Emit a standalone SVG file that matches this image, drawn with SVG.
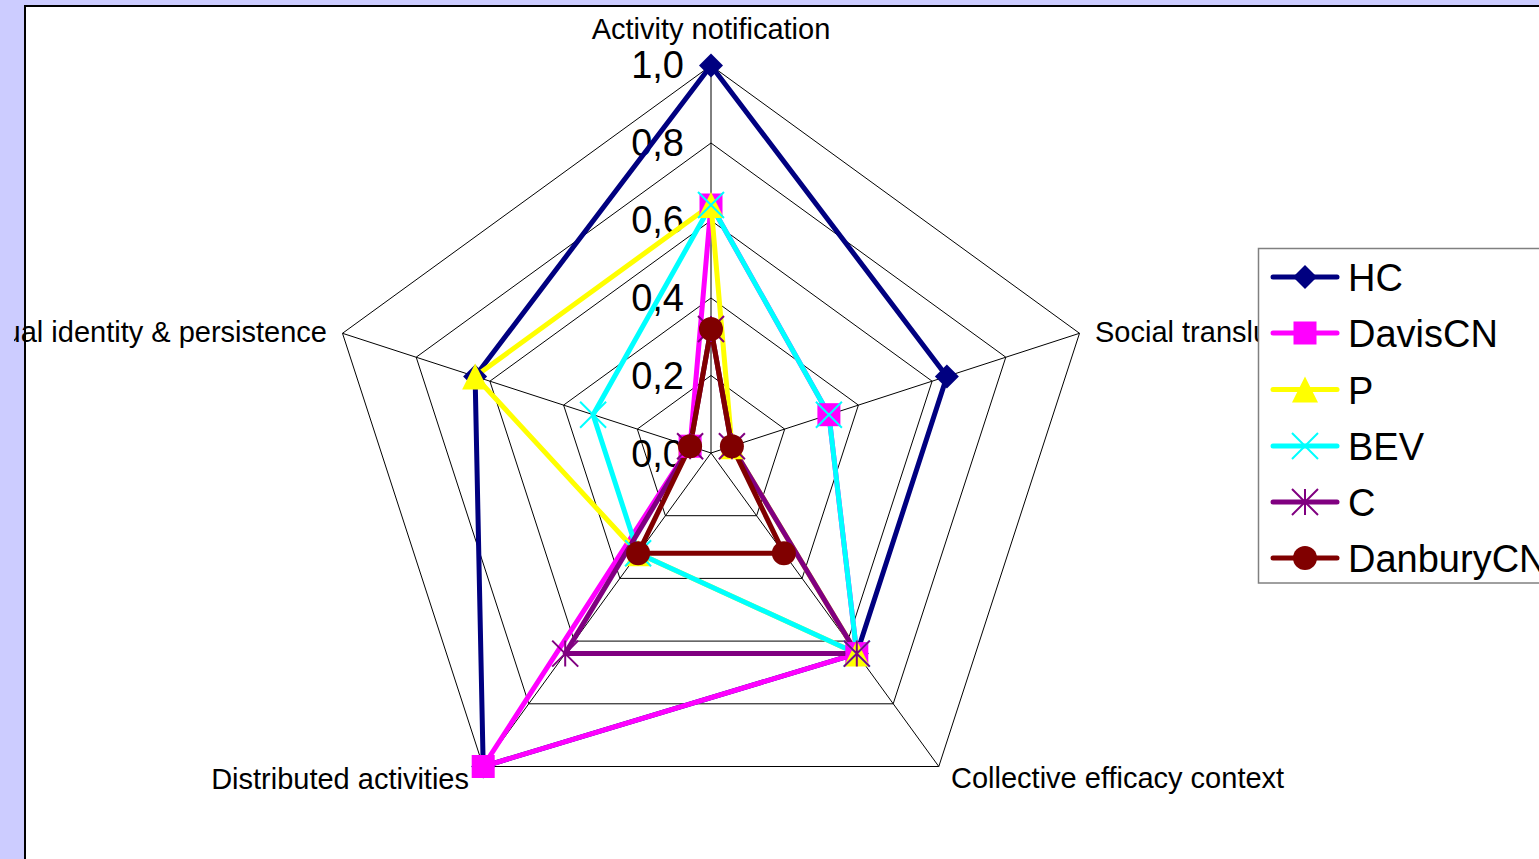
<svg xmlns="http://www.w3.org/2000/svg" xmlns:xlink="http://www.w3.org/1999/xlink" width="1539" height="859" viewBox="0 0 1539 859">
<style>
text{font-family:"Liberation Sans",Arial,sans-serif;fill:#000}
.cat{font-size:29px}
.val{font-size:38px;text-anchor:end}
.leg{font-size:38px}
.grid{fill:none;stroke:#000;stroke-width:1}
.ser{fill:none;stroke-width:5;stroke-linejoin:round}
.legline{stroke-width:5;stroke-linecap:round}
</style>
<defs>
<clipPath id="clipL"><rect x="14" y="0" width="1525" height="859"/></clipPath>
<polygon id="mDiamond" points="0,-12 12,0 0,12 -12,0" fill="#000080"/>
<rect id="mSquare" x="-11.5" y="-11.5" width="23" height="23" fill="#FF00FF"/>
<polygon id="mTri" points="0,-13 13,13 -13,13" fill="#FFFF00"/>
<path id="mX" d="M-13,-13L13,13M-13,13L13,-13" stroke="#00FFFF" stroke-width="2" fill="none"/>
<path id="mStar" d="M-13,-13L13,13M-13,13L13,-13M0,-13V13" stroke="#800080" stroke-width="2" fill="none"/>
<circle id="mCircle" r="12" fill="#800000"/>
</defs>
<rect x="0" y="0" width="1539" height="859" fill="#CCCCFF"/>
<rect x="25" y="6" width="1530" height="870" fill="#FFFFFF" stroke="#000" stroke-width="2"/>

<g id="grid">
<polygon class="grid" points="711,65.5 1079.5,333.3 938.8,766.5 483.2,766.5 342.5,333.3"/>
<polygon class="grid" points="711,143 1005.8,357.2 893.2,703.8 528.8,703.8 416.2,357.2"/>
<polygon class="grid" points="711,220.5 932.1,381.2 847.7,641.1 574.3,641.1 489.9,381.2"/>
<polygon class="grid" points="711,298 858.4,405.1 802.1,578.4 619.9,578.4 563.6,405.1"/>
<polygon class="grid" points="711,375.5 784.7,429.1 756.6,515.7 665.4,515.7 637.3,429.1"/>
<path class="grid" d="M711,453L711,65.5M711,453L1079.5,333.3M711,453L938.8,766.5M711,453L483.2,766.5M711,453L342.5,333.3"/>
</g>

<g id="axis-values">
<text class="val" x="684" y="78">1,0</text>
<text class="val" x="684" y="156">0,8</text>
<text class="val" x="684" y="233">0,6</text>
<text class="val" x="684" y="311">0,4</text>
<text class="val" x="684" y="389">0,2</text>
<text class="val" x="684" y="467">0,0</text>
</g>

<g id="category-labels">
<text class="cat" x="711" y="39" text-anchor="middle">Activity notification</text>
<text class="cat" x="1095" y="342">Social translucence</text>
<text class="cat" x="951" y="788">Collective efficacy context</text>
<text class="cat" x="469" y="789" text-anchor="end">Distributed activities</text>
<text class="cat" x="327" y="342" text-anchor="end" clip-path="url(#clipL)">Individual identity &amp; persistence</text>
</g>

<g id="connectors">
<polygon id="s-HC" class="ser" stroke="#000080" points="711,65.5 946.9,376.4 856.8,653.6 483.2,766.5 475.1,376.4"/>
<polygon id="s-DavisCN" class="ser" stroke="#FF00FF" points="711,205 828.9,414.7 856.8,653.6 483.2,766.5 690.1,446.2"/>
<polygon id="s-P" class="ser" stroke="#FFFF00" points="711,205 731.9,446.2 856.8,653.6 638.1,553.3 475.1,376.4"/>
<polygon id="s-BEV" class="ser" stroke="#00FFFF" points="711,205 828.9,414.7 856.8,653.6 638.1,553.3 593.1,414.7"/>
<polygon id="s-C" class="ser" stroke="#800080" points="711,329 731.9,446.2 856.8,653.6 565.2,653.6 690.1,446.2"/>
<polygon id="s-DanburyCN" class="ser" stroke="#800000" points="711,329 731.9,446.2 783.9,553.3 638.1,553.3 690.1,446.2"/>
</g>

<g id="markers-HC">
<use xlink:href="#mDiamond" x="711" y="65.5"/><use xlink:href="#mDiamond" x="946.9" y="376.4"/><use xlink:href="#mDiamond" x="856.8" y="653.6"/><use xlink:href="#mDiamond" x="483.2" y="766.5"/><use xlink:href="#mDiamond" x="475.1" y="376.4"/>
</g>
<g id="markers-DavisCN">
<use xlink:href="#mSquare" x="711" y="205"/><use xlink:href="#mSquare" x="828.9" y="414.7"/><use xlink:href="#mSquare" x="856.8" y="653.6"/><use xlink:href="#mSquare" x="483.2" y="766.5"/><use xlink:href="#mSquare" x="690.1" y="446.2"/>
</g>
<g id="markers-P">
<use xlink:href="#mTri" x="711" y="205"/><use xlink:href="#mTri" x="731.9" y="446.2"/><use xlink:href="#mTri" x="856.8" y="653.6"/><use xlink:href="#mTri" x="638.1" y="553.3"/><use xlink:href="#mTri" x="475.1" y="376.4"/>
</g>
<g id="markers-BEV">
<use xlink:href="#mX" x="711" y="205"/><use xlink:href="#mX" x="828.9" y="414.7"/><use xlink:href="#mX" x="856.8" y="653.6"/><use xlink:href="#mX" x="638.1" y="553.3"/><use xlink:href="#mX" x="593.1" y="414.7"/>
</g>
<g id="markers-C">
<use xlink:href="#mStar" x="711" y="329"/><use xlink:href="#mStar" x="731.9" y="446.2"/><use xlink:href="#mStar" x="856.8" y="653.6"/><use xlink:href="#mStar" x="565.2" y="653.6"/><use xlink:href="#mStar" x="690.1" y="446.2"/>
</g>
<g id="markers-DanburyCN">
<use xlink:href="#mCircle" x="711" y="329"/><use xlink:href="#mCircle" x="731.9" y="446.2"/><use xlink:href="#mCircle" x="783.9" y="553.3"/><use xlink:href="#mCircle" x="638.1" y="553.3"/><use xlink:href="#mCircle" x="690.1" y="446.2"/>
</g>

<g id="legend">
<rect x="1258.5" y="248.5" width="300" height="334.5" fill="#FFFFFF" stroke="#808080" stroke-width="1.5"/>
<g id="leg-HC"><line class="legline" x1="1273" y1="277" x2="1337" y2="277" stroke="#000080"/><use xlink:href="#mDiamond" x="1305" y="277"/><text class="leg" x="1348" y="291">HC</text></g>
<g id="leg-DavisCN"><line class="legline" x1="1273" y1="333" x2="1337" y2="333" stroke="#FF00FF"/><use xlink:href="#mSquare" x="1305" y="333"/><text class="leg" x="1348" y="347">DavisCN</text></g>
<g id="leg-P"><line class="legline" x1="1273" y1="389.5" x2="1337" y2="389.5" stroke="#FFFF00"/><use xlink:href="#mTri" x="1305" y="389.5"/><text class="leg" x="1348" y="403.5">P</text></g>
<g id="leg-BEV"><line class="legline" x1="1273" y1="446" x2="1337" y2="446" stroke="#00FFFF"/><use xlink:href="#mX" x="1305" y="446"/><text class="leg" x="1348" y="460">BEV</text></g>
<g id="leg-C"><line class="legline" x1="1273" y1="502" x2="1337" y2="502" stroke="#800080"/><use xlink:href="#mStar" x="1305" y="502"/><text class="leg" x="1348" y="516">C</text></g>
<g id="leg-DanburyCN"><line class="legline" x1="1273" y1="558" x2="1337" y2="558" stroke="#800000"/><use xlink:href="#mCircle" x="1305" y="558"/><text class="leg" x="1348" y="572">DanburyCN</text></g>
</g>
</svg>
